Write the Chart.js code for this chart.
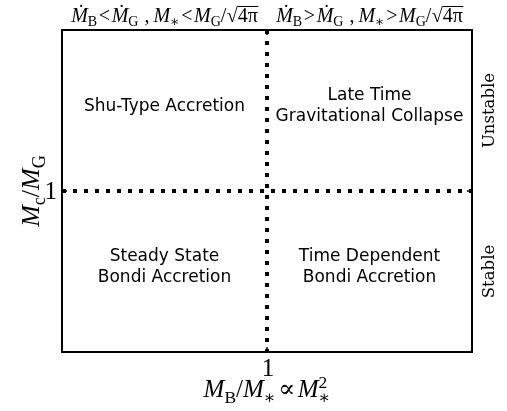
<!DOCTYPE html>
<html><head><meta charset="utf-8">
<script src="https://cdn.jsdelivr.net/npm/chart.js@4/dist/chart.umd.min.js"></script>
<style>html,body{margin:0;padding:0;background:#fff}#wrap{width:507px;height:411px}</style>
</head><body><div id="wrap"><canvas id="c"></canvas></div>
<script>
// Axis extents (both axes centred on the critical ratio of 1)
const xRange = [0, 2];
const yRange = [0, 2];
// Critical ratios that split the regime diagram
const xThreshold = 1;
const yThreshold = 1;
const tickValues = [1];
const tickLabels = ['1'];
// Regime names, quadrant order: upper-left, upper-right, lower-left, lower-right
const regionNames = [
  ['Shu-Type Accretion'],
  ['Late Time', 'Gravitational Collapse'],
  ['Steady State', 'Bondi Accretion'],
  ['Time Dependent', 'Bondi Accretion']
];
const stabilityLabels = ['Unstable', 'Stable'];

const MATH = '"Liberation Serif", "DejaVu Serif", serif';

// Draw a run list of math text: {t, it, sub, sup, stack, over}
function rich(ctx, runs, x, y, size, align) {
  const pieces = [];
  let w = 0, prevStart = 0, prevW = 0;
  runs.forEach(r => {
    const s = (r.sub || r.sup) ? size * 0.7 : size;
    const font = (r.it ? 'italic ' : '') + s + 'px ' + MATH;
    ctx.font = font;
    const tw = ctx.measureText(r.t).width;
    let start = w + (r.gap || 0) * size;
    if (r.stack) start = prevStart;
    const dy = r.sub ? size * 0.22 : (r.sup ? -size * 0.38 : 0);
    pieces.push({t: r.t, font, x: start, dy, w: tw, over: r.over, size: s});
    if (r.stack) { w = Math.max(prevStart + prevW, start + tw); }
    else { w = start + tw; }
    prevStart = start; prevW = tw;
  });
  const x0 = align === 'center' ? x - w / 2 : x;
  ctx.textBaseline = 'alphabetic';
  ctx.textAlign = 'left';
  pieces.forEach(p => {
    ctx.font = p.font;
    ctx.fillText(p.t, x0 + p.x, y + p.dy);
    if (p.over) {
      ctx.fillRect(x0 + p.x - 0.5, y + p.dy - p.size * 0.8, p.w + 1, 1);
    }
  });
}

const topLeft = [
  {t: 'Ṁ', it: 1}, {t: 'B', sub: 1}, {t: '<', gap: 0.08}, {t: 'Ṁ', it: 1, gap: 0.08}, {t: 'G', sub: 1},
  {t: ' ,', gap: 0.05}, {t: 'M', it: 1, gap: 0.2}, {t: '∗', sub: 1}, {t: '<', gap: 0.08},
  {t: 'M', it: 1, gap: 0.08}, {t: 'G', sub: 1}, {t: '/'}, {t: '√', gap: 0.02}, {t: '4π', over: 1}
];
const topRight = [
  {t: 'Ṁ', it: 1}, {t: 'B', sub: 1}, {t: '>', gap: 0.08}, {t: 'Ṁ', it: 1, gap: 0.08}, {t: 'G', sub: 1},
  {t: ' ,', gap: 0.05}, {t: 'M', it: 1, gap: 0.2}, {t: '∗', sub: 1}, {t: '>', gap: 0.08},
  {t: 'M', it: 1, gap: 0.08}, {t: 'G', sub: 1}, {t: '/'}, {t: '√', gap: 0.02}, {t: '4π', over: 1}
];
const xTitle = [
  {t: 'M', it: 1}, {t: 'B', sub: 1}, {t: '/'}, {t: 'M', it: 1}, {t: '∗', sub: 1},
  {t: '∝', gap: 0.1}, {t: 'M', it: 1, gap: 0.1}, {t: '2', sup: 1}, {t: '∗', sub: 1, stack: 1}
];
const yTitle = [
  {t: 'M', it: 1}, {t: 'c', sub: 1}, {t: '/'}, {t: 'M', it: 1}, {t: 'G', sub: 1}
];

const regimePlugin = {
  id: 'regime',
  afterDraw(chart) {
    const {ctx, chartArea: a, scales: {x, y}} = chart;
    ctx.save();
    ctx.fillStyle = '#000';
    ctx.strokeStyle = '#000';
    // inward tick marks on all four sides
    ctx.lineWidth = 1.5;
    tickValues.forEach(v => {
      const px = x.getPixelForValue(v), py = y.getPixelForValue(v);
      ctx.beginPath();
      ctx.moveTo(px, a.bottom); ctx.lineTo(px, a.bottom - 5);
      ctx.moveTo(px, a.top); ctx.lineTo(px, a.top + 5);
      ctx.moveTo(a.left, py); ctx.lineTo(a.left + 5, py);
      ctx.moveTo(a.right, py); ctx.lineTo(a.right - 5, py);
      ctx.stroke();
    });
    // frame
    ctx.lineWidth = 2;
    ctx.strokeRect(a.left, a.top, a.right - a.left, a.bottom - a.top);

    // tick labels
    ctx.font = '25px ' + MATH;
    ctx.textBaseline = 'alphabetic';
    tickValues.forEach((v, i) => {
      const px = x.getPixelForValue(v), py = y.getPixelForValue(v);
      ctx.textAlign = 'center';
      ctx.fillText(tickLabels[i], px + 1, a.bottom + 24);
      ctx.textAlign = 'right';
      ctx.fillText(tickLabels[i], a.left - 5, py + 8);
    });

    // axis titles
    rich(ctx, xTitle, x.getPixelForValue(xThreshold), a.bottom + 45, 25, 'center');
    ctx.save();
    ctx.translate(a.left - 23, y.getPixelForValue(yThreshold));
    ctx.rotate(-Math.PI / 2);
    rich(ctx, yTitle, 0, 0, 26, 'center');
    ctx.restore();

    // quadrant centres
    const xl = x.getPixelForValue((xRange[0] + xThreshold) / 2);
    const xr = x.getPixelForValue((xRange[1] + xThreshold) / 2);
    const yt = y.getPixelForValue((yRange[1] + yThreshold) / 2);
    const yb = y.getPixelForValue((yRange[0] + yThreshold) / 2);

    // conditions above the frame
    rich(ctx, topLeft, xl, a.top - 8, 20, 'center');
    rich(ctx, topRight, xr, a.top - 8, 20, 'center');

    // regime names
    ctx.font = '17px "DejaVu Sans"';
    ctx.textAlign = 'center';
    ctx.textBaseline = 'middle';
    const centres = [[xl, yt], [xr, yt], [xl, yb], [xr, yb]];
    regionNames.forEach((lines, i) => {
      const [cx, cy] = centres[i];
      const lh = 21;
      lines.forEach((s, j) => {
        ctx.fillText(s, cx, cy - 4 + (j - (lines.length - 1) / 2) * lh);
      });
    });

    // stability labels on the right
    ctx.font = '16.5px "DejaVu Serif"';
    [yt, yb].forEach((cy, i) => {
      ctx.save();
      ctx.translate(a.right + 18, cy);
      ctx.rotate(-Math.PI / 2);
      ctx.textAlign = 'center';
      ctx.textBaseline = 'middle';
      ctx.fillText(stabilityLabels[i], 0, 0);
      ctx.restore();
    });
    ctx.restore();
  }
};

const dotted = {borderColor: '#000', borderWidth: 4, borderDash: [4, 7], borderCapStyle: 'butt',
  pointRadius: 0, showLine: true, fill: false, tension: 0};

new Chart(document.getElementById('c'), {
  type: 'scatter',
  data: {
    datasets: [
      Object.assign({data: [{x: xThreshold, y: yRange[1]}, {x: xThreshold, y: yRange[0]}]}, dotted),
      Object.assign({data: [{x: xRange[0], y: yThreshold}, {x: xRange[1], y: yThreshold}]}, dotted)
    ]
  },
  options: {
    responsive: true, maintainAspectRatio: false, animation: false,
    layout: {padding: {left: 62, right: 35, top: 30, bottom: 59}},
    plugins: {legend: {display: false}, tooltip: {enabled: false}},
    scales: {
      x: {type: 'linear', min: xRange[0], max: xRange[1], display: false},
      y: {type: 'linear', min: yRange[0], max: yRange[1], display: false}
    }
  },
  plugins: [regimePlugin]
});
</script>
</body></html>
